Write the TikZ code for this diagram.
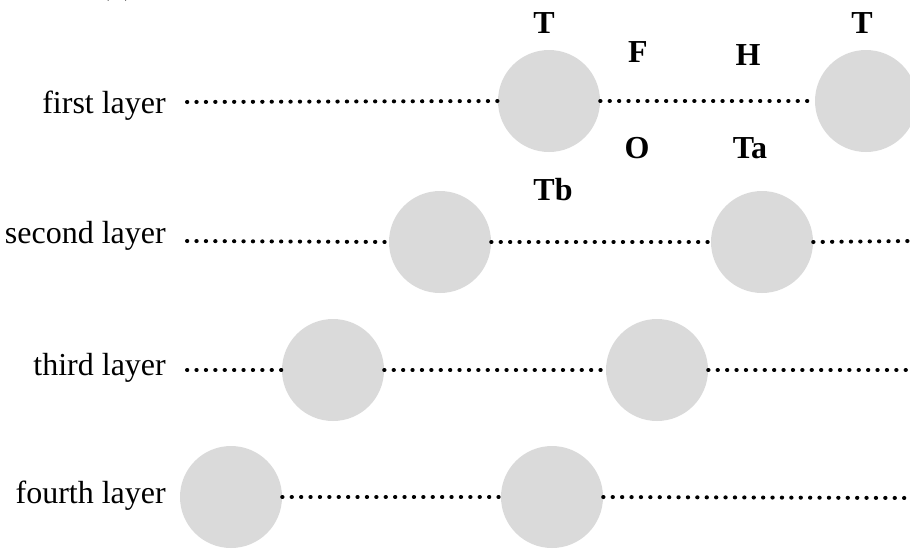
\documentclass[tikz,border=0pt]{standalone}
\usepackage{fontspec}
\setmainfont{Liberation Serif}
\definecolor{ballgray}{RGB}{218,218,218}
\begin{document}
\begin{tikzpicture}[x=1pt,y=-1pt,
  ball/.style={circle,fill=ballgray,minimum size=102pt,inner sep=0pt},
  dotline/.style={line width=4pt,line cap=round,dash pattern=on 0.3pt off 9.1pt,black},
  laytext/.style={font=\fontsize{32}{38}\selectfont,anchor=base east,inner sep=0pt},
  atom/.style={font=\fontsize{32}{38}\selectfont\bfseries,anchor=base,inner sep=0pt}]
\useasboundingbox (0,0) rectangle (910,550);
\begin{scope}
\clip (0,0) rectangle (910,550);
\node[laytext,anchor=base] (cap) at (117,-6) {(a)};
% circles
\node[ball] (c11) at (549,101) {};
\node[ball] (c12) at (866,101) {};
\node[ball] (c21) at (440,242) {};
\node[ball] (c22) at (762,242) {};
\node[ball] (c31) at (333,370) {};
\node[ball] (c32) at (657,370) {};
\node[ball] (c41) at (231,497) {};
\node[ball] (c42) at (552,497) {};
\end{scope}
% layer labels
\node[laytext] (l1) at (166,113) {first layer};
\node[laytext] (l2) at (166,243) {second layer};
\node[laytext] (l3) at (166,375) {third layer};
\node[laytext] (l4) at (166,503) {fourth layer};
% line ends
\coordinate (s1) at (187,102);
\coordinate (s2) at (187,241);
\coordinate (s3) at (187,370);
\coordinate (e2) at (910,241);
\coordinate (e3) at (910,370);
\coordinate (e4) at (910,498);
% dotted lines
\draw[dotline] (s1) -- (c11.west);
\draw[dotline] (c11.east) -- (c12.west);
\draw[dotline] (s2) -- (c21.west);
\draw[dotline] (c21.east) -- (c22.west);
\draw[dotline] (c22.east) -- (e2);
\draw[dotline] (s3) -- (c31.west);
\draw[dotline] (c31.east) -- (c32.west);
\draw[dotline] (c32.east) -- (e3);
\draw[dotline] (c41.east) -- (c42.west);
\draw[dotline] (c42.east) -- (e4);
% atom labels
\node[atom] (t1) at (544,33) {T};
\node[atom] (f) at (638,62) {F};
\node[atom] (h) at (748,65) {H};
\node[atom] (t2) at (862,33) {T};
\node[atom] (o) at (637,158) {O};
\node[atom] (ta) at (750,158) {Ta};
\node[atom] (tb) at (553,200) {Tb};
\end{tikzpicture}
\end{document}
